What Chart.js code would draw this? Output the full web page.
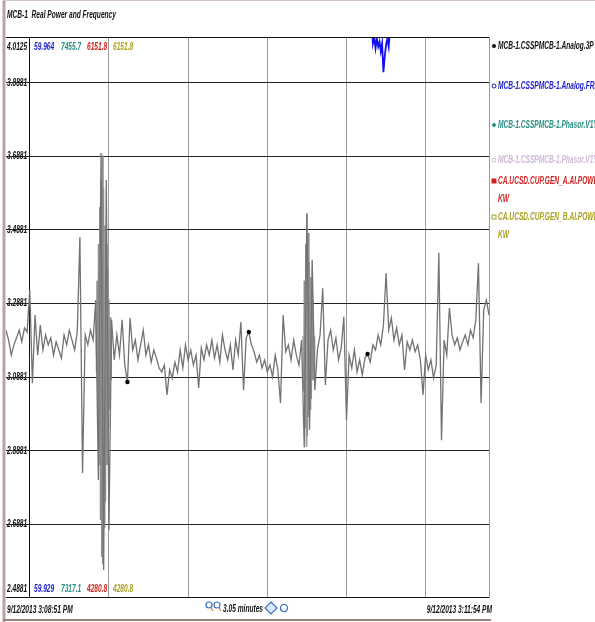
<!DOCTYPE html>
<html>
<head>
<meta charset="utf-8">
<script src="https://cdn.jsdelivr.net/npm/chart.js@4"></script>
<style>
  html, body { margin: 0; padding: 0; background: #fff; }
</style>
</head>
<body>
<canvas id="chartCanvas" width="595" height="622"></canvas>
<script>
const titleText = "MCB-1  Real Power and Frequency";
const startLabel = "9/12/2013 3:08:51 PM";
const endLabel = "9/12/2013 3:11:54 PM";
const spanLabel = "3.05 minutes";

// seconds after 3:08:51, one sample per second
const sampleTimes = Array.from({ length: 184 }, (_, i) => i);
const realPower = [
    3.216, 3.189, 3.148, 3.176, 3.195, 3.216, 3.184, 3.222, 3.211, 3.325,
    3.072, 3.257, 3.148, 3.230, 3.162, 3.203, 3.176, 3.195, 3.148, 3.184,
    3.162, 3.140, 3.203, 3.176, 3.216, 3.189, 3.162, 3.211, 3.469, 2.828,
    3.203, 3.176, 3.216, 3.189, 3.298, 2.809, 3.697, 2.564, 3.624, 2.672,
    3.244, 3.135, 3.203, 3.148, 3.244, 3.121, 3.075, 3.249, 3.162, 3.189,
    3.135, 3.176, 3.216, 3.148, 3.176, 3.129, 3.162, 3.140, 3.113, 3.102,
    3.121, 3.040, 3.108, 3.086, 3.129, 3.102, 3.162, 3.113, 3.176, 3.135,
    3.162, 3.121, 3.148, 3.059, 3.168, 3.135, 3.176, 3.148, 3.189, 3.140,
    3.176, 3.129, 3.203, 3.162, 3.135, 3.176, 3.108, 3.189, 3.148, 3.238,
    3.053, 3.195, 3.211, 3.176, 3.157, 3.129, 3.148, 3.113, 3.135, 3.102,
    3.121, 3.089, 3.148, 3.108, 3.018, 3.257, 3.157, 3.176, 3.135, 3.189,
    3.148, 3.121, 3.189, 2.898, 3.534, 2.945, 3.407, 3.053, 3.162, 3.203,
    3.330, 3.067, 3.189, 3.216, 3.162, 3.195, 3.135, 3.168, 3.252, 2.972,
    3.148, 3.113, 3.162, 3.102, 3.135, 3.094, 3.140, 3.151, 3.129, 3.176,
    3.162, 3.203, 3.176, 3.230, 3.371, 3.216, 3.249, 3.189, 3.222, 3.176,
    3.203, 3.108, 3.184, 3.162, 3.189, 3.157, 3.176, 3.135, 3.040, 3.148,
    3.108, 3.135, 3.086, 3.121, 3.426, 2.917, 3.189, 3.148, 3.276, 3.203,
    3.176, 3.195, 3.162, 3.184, 3.203, 3.176, 3.216, 3.195, 3.244, 3.398,
    3.018, 3.271, 3.298, 3.257
];

// faster samples during the two big swings (null breaks the line)
const burstTimes = [
    34, 34.25, 34.5, 34.75, 35, 35.25, 35.5, 35.75, 36, 36.25, 36.5, 36.75,
    37, 37.25, 37.5, 37.75, 38, 38.25, 38.5, 38.75, 39, 39.25, 39.5, 39.75, 40, null,
    112.5, 112.75, 113, 113.25, 113.5, 113.75, 114, 114.25, 114.5, 114.75,
    115, 115.25, 115.5, 115.75, 116, 116.25, 116.5, 116.75, 117
];
const burstValues = [
    3.25, 3.10, 3.35, 2.98, 3.45, 2.85, 3.55, 2.70, 3.62, 2.60, 3.69, 2.58,
    3.60, 2.68, 3.50, 2.75, 3.45, 2.85, 3.38, 2.95, 3.30, 3.00, 3.25, 3.08, 3.24, null,
    3.20, 3.05, 3.35, 2.95, 3.45, 2.90, 3.53, 2.93, 3.48, 2.98,
    3.40, 3.00, 3.36, 3.03, 3.30, 3.08, 3.25, 3.10, 3.20
];

const dotTimes = [46, 92, 137];
const dotValues = [3.075, 3.211, 3.151];

// frequency only dips into view for a few seconds
const freqTimes = [138.5, 139, 139.5, 140, 140.5, 141, 141.5, 142, 142.5, 143, 143.5, 144, 144.5, 145, 145.5, 146];
const frequency = [59.9650, 59.9636, 59.9640, 59.9633, 59.9639, 59.9634, 59.9637, 59.9631,
                   59.9636, 59.9618, 59.9628, 59.9635, 59.9639, 59.9634, 59.9645, 59.9650];

const gridTimes = [9, 39, 69, 99, 129, 159];
const powerGrid = [2.6881, 2.8881, 3.0881, 3.2881, 3.4881, 3.6881, 3.8881];
const powerMin = 2.4881;
const powerMax = 4.0125;
const freqMin = 59.929;
const freqMax = 59.964;

const topValues = ["4.0125", "59.964", "7455.7", "6151.8", "6151.8"];
const bottomValues = ["2.4881", "59.929", "7317.1", "4280.8", "4280.8"];
const seriesColors = ["#111111", "#1c1ccc", "#2a8f84", "#d22020", "#a9a020"];

const legendNames = [
    ["MCB-1.CSSPMCB-1.Analog.3P"],
    ["MCB-1.CSSPMCB-1.Analog.FRE"],
    ["MCB-1.CSSPMCB-1.Phasor.V1Y"],
    ["MCB-1.CSSPMCB-1.Phasor.V1Y"],
    ["CA.UCSD.CUP.GEN_A.AI.POWE", "KW"],
    ["CA.UCSD.CUP.GEN_B.AI.POWE", "KW"]
];
const legendColors = ["#111111", "#1c1ccc", "#2a8f84", "#cdbad8", "#d22020", "#a9a020"];
const legendSymbols = ["dot", "ring", "diamond", "ring", "square", "box"];

const fontFam = '"Liberation Sans", Arial, sans-serif';
const squeeze = 0.66; // the original uses a condensed face

function hline(c, x1, x2, y) { c.beginPath(); c.moveTo(x1, y); c.lineTo(x2, y); c.stroke(); }
function vline(c, x, y1, y2) { c.beginPath(); c.moveTo(x, y1); c.lineTo(x, y2); c.stroke(); }

function narrowText(c, text, x, y, align) {
    c.save();
    c.translate(x, y);
    c.scale(squeeze, 1);
    c.textAlign = align || "left";
    c.fillText(text, 0, 0);
    c.restore();
}

function drawSymbol(c, kind, x, y, color) {
    c.fillStyle = color; c.strokeStyle = color; c.lineWidth = 1;
    c.beginPath();
    if (kind == "dot") { c.arc(x, y, 2, 0, Math.PI * 2); c.fill(); }
    else if (kind == "ring") { c.arc(x, y, 2, 0, Math.PI * 2); c.stroke(); }
    else if (kind == "diamond") { c.moveTo(x, y - 2.5); c.lineTo(x + 2.5, y); c.lineTo(x, y + 2.5); c.lineTo(x - 2.5, y); c.closePath(); c.fill(); }
    else if (kind == "square") { c.fillRect(x - 2.5, y - 2.5, 5, 5); }
    else { c.strokeRect(x - 2, y - 2, 4, 4); }
}

const extras = {
    id: "extras",
    beforeDraw(chart) {
        const c = chart.ctx;
        c.save();
        c.fillStyle = "#fff";
        c.fillRect(0, 0, chart.width, chart.height);
        c.restore();
    },
    afterDraw(chart) {
        const c = chart.ctx, a = chart.chartArea;
        const yScale = chart.scales.y;
        c.save();
        c.lineWidth = 1;
        // plot frame
        c.strokeStyle = "#111";
        hline(c, a.left, a.right, Math.round(a.top) + 0.5);
        hline(c, a.left, a.right, Math.round(a.bottom) - 0.5);
        c.strokeStyle = "#9a9a9a";
        vline(c, Math.round(a.right) + 0.5, a.top, a.bottom);
        // outer panel border
        c.strokeStyle = "#b8a4a4";
        c.lineWidth = 3;
        vline(c, 4, 0, 622);
        c.lineWidth = 2;
        c.strokeStyle = "#9c8580";
        hline(c, 3, 491, 620);
        c.lineWidth = 1;
        c.strokeStyle = "#d8c8c8";
        hline(c, 3, 595, 0.5);

        c.textBaseline = "middle";
        c.font = "italic bold 10px " + fontFam;
        c.fillStyle = "#111";
        narrowText(c, titleText, 7, 15);

        // y grid labels sit on their lines
        powerGrid.forEach(v => narrowText(c, v.toFixed(4), 7, yScale.getPixelForValue(v)));

        // current values at top and bottom of the scale
        const colX = [7, 34, 61, 87, 113];
        topValues.forEach((t, i) => { c.fillStyle = seriesColors[i]; narrowText(c, t, colX[i], 47); });
        bottomValues.forEach((t, i) => { c.fillStyle = seriesColors[i]; narrowText(c, t, colX[i], 589); });

        // time range
        c.fillStyle = "#111";
        narrowText(c, startLabel, 7, 610);
        narrowText(c, endLabel, 492, 610, "right");
        narrowText(c, spanLabel, 223, 609);

        // zoom / scroll icons
        c.lineWidth = 1.2;
        [209, 217].forEach(x => {
            c.strokeStyle = "#3a6fc8";
            c.beginPath(); c.arc(x, 605, 3, 0, Math.PI * 2); c.stroke();
            c.strokeStyle = "#c08a30";
            c.beginPath(); c.moveTo(x + 2, 607.5); c.lineTo(x + 4, 611); c.stroke();
        });
        c.strokeStyle = "#3a6fc8";
        c.beginPath(); c.moveTo(271, 602); c.lineTo(277, 608); c.lineTo(271, 614); c.lineTo(265, 608); c.closePath();
        c.fillStyle = "#dfe8f8"; c.fill(); c.stroke();
        c.beginPath(); c.arc(284, 608, 3.5, -1.2, 2.0); c.stroke();
        c.beginPath(); c.arc(284, 608, 3.5, 1.9, 5.1); c.stroke();

        // series list
        const rowY = [46, 86, 125, 160, 181, 217];
        legendNames.forEach((lines, i) => {
            drawSymbol(c, legendSymbols[i], 494, rowY[i], legendColors[i]);
            c.fillStyle = legendColors[i];
            lines.forEach((t, k) => narrowText(c, t, 498, rowY[i] + k * 18));
        });
        c.restore();
    }
};

const ctx = document.getElementById("chartCanvas").getContext("2d");

const config = {
    type: "line",
    data: {
        datasets: [
            {
                label: "Analog.3P marks",
                data: dotTimes.map((t, i) => ({ x: t, y: dotValues[i] })),
                showLine: false,
                pointRadius: 2.2,
                pointBackgroundColor: "#000",
                pointBorderWidth: 0,
                yAxisID: "y"
            },
            {
                label: "Analog.3P",
                data: sampleTimes.map((t, i) => ({ x: t, y: realPower[i] })),
                borderColor: "#727272",
                borderWidth: 1.3,
                pointRadius: 0,
                tension: 0,
                yAxisID: "y"
            },
            {
                label: "Analog.3P fast",
                data: burstTimes.map((t, i) => ({ x: t, y: burstValues[i] })),
                borderColor: "#8c8c8c",
                borderWidth: 1,
                pointRadius: 0,
                tension: 0,
                spanGaps: false,
                yAxisID: "y"
            },
            {
                label: "Analog.FREQ",
                data: freqTimes.map((t, i) => ({ x: t, y: frequency[i] })),
                borderColor: "#1010f0",
                borderWidth: 1.8,
                pointRadius: 0,
                tension: 0,
                yAxisID: "yFreq"
            }
        ]
    },
    options: {
        responsive: false,
        animation: false,
        layout: { padding: { left: 6, top: 37, right: 106, bottom: 24 } },
        scales: {
            x: {
                type: "linear",
                min: 0,
                max: 183,
                afterBuildTicks: axis => { axis.ticks = gridTimes.map(v => ({ value: v })); },
                ticks: { display: false },
                border: { display: false },
                grid: {
                    drawTicks: false,
                    color: c => c.index == 0 ? "#111" : "#9a9a9a",
                    lineWidth: 1
                }
            },
            y: {
                min: powerMin,
                max: powerMax,
                afterBuildTicks: axis => { axis.ticks = powerGrid.map(v => ({ value: v })); },
                border: { display: false },
                grid: { drawTicks: false, color: "#222", lineWidth: 1 },
                ticks: { display: false }
            },
            yFreq: {
                display: false,
                min: freqMin,
                max: freqMax
            }
        },
        plugins: {
            legend: { display: false },
            tooltip: { enabled: false }
        }
    },
    plugins: [extras]
};

const chart = new Chart(ctx, config);
</script>
</body>
</html>
